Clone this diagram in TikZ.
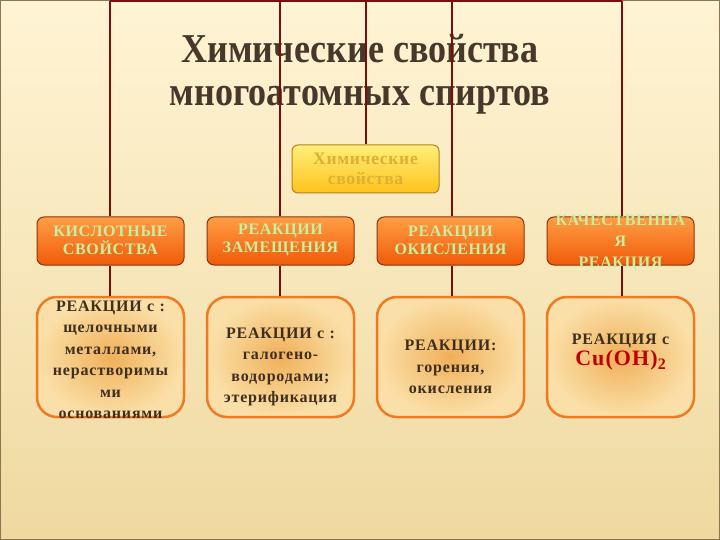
\documentclass[tikz,border=0pt]{standalone}
\usepackage{fontspec}
\setmainfont{Liberation Serif}
\newfontfamily\titlefont[FakeStretch=0.88]{Liberation Serif}
\definecolor{bgtop}{HTML}{FFF4D4}
\definecolor{bgmid}{HTML}{FAEBC0}
\definecolor{bgbot}{HTML}{EFD9A0}
\definecolor{framec}{HTML}{8C7450}
\definecolor{linec}{HTML}{7A0E0E}
\definecolor{titlec}{HTML}{46382A}
\definecolor{goldtop}{HTML}{FFEF7A}
\definecolor{goldbot}{HTML}{FFC21A}
\definecolor{goldbrd}{HTML}{B8801E}
\definecolor{goldtxt}{HTML}{DDAF32}
\definecolor{orgtop}{HTML}{FF9E45}
\definecolor{orgbot}{HTML}{F05A08}
\definecolor{orgbrd}{HTML}{8A3410}
\definecolor{grntxt}{HTML}{C4F0A0}
\definecolor{boxin}{HTML}{F0B05A}
\definecolor{boxout}{HTML}{FAE0A8}
\definecolor{boxbrd}{HTML}{F07A22}
\definecolor{txtc}{HTML}{3E2E1E}
\definecolor{cured}{HTML}{C00000}
\tikzset{
  conn/.style={draw=linec, line width=2pt},
  chembox/.style={rounded corners=6pt, draw=goldbrd, line width=1pt, top color=goldtop, bottom color=goldbot,
    minimum width=147pt, minimum height=48pt, inner sep=0pt},
  chemtext/.style={align=center, text=goldtxt, inner sep=0pt,
    font=\fontsize{17.5}{20}\selectfont\bfseries\addfontfeature{LetterSpace=4}},
  lvltwo/.style={rounded corners=7pt, draw=orgbrd, line width=1pt, top color=orgtop, bottom color=orgbot,
    minimum width=147pt, minimum height=48pt, inner sep=0pt},
  twotext/.style={align=center, text=grntxt, text width=160pt, inner sep=0pt,
    font=\fontsize{16}{18}\selectfont\bfseries\addfontfeature{LetterSpace=4}},
  lvlthree/.style={rounded corners=20pt, draw=boxbrd, line width=2.5pt, shading=radial, inner color=boxin, outer color=boxout,
    minimum width=147pt, minimum height=120pt, inner sep=0pt},
  btext/.style={align=center, text=txtc, inner sep=0pt, text width=160pt,
    font=\fontsize{16}{21.5}\selectfont\bfseries\addfontfeature{LetterSpace=5}},
}
\begin{document}
\begin{tikzpicture}[x=1pt,y=-1pt]
\useasboundingbox (0,0) rectangle (720,540);
\shade[top color=bgtop, middle color=bgmid, bottom color=bgbot] (0,0) rectangle (720,540);
\draw[framec, line width=1.2pt] (0.6,0.6) rectangle (719.4,539.4);
% title
\node[text=titlec, font=\titlefont\fontsize{41}{43}\selectfont\bfseries, align=center, inner sep=0pt] (title) at (360,74)
  {Химические свойства\\многоатомных спиртов};
% coordinates
\coordinate (t1) at (110,1);
\coordinate (t2) at (280,1);
\coordinate (tc) at (366,1);
\coordinate (t3) at (452,1);
\coordinate (t4) at (622,1);
% boxes
\node[chembox] (chem) at (365.5,169) {};
\node[chemtext] (chemt) at (365.5,169) {Химические\\свойства};
\node[lvltwo] (k1) at (110.5,241) {};
\node[lvltwo] (k2) at (280.5,241) {};
\node[lvltwo] (k3) at (450.5,241) {};
\node[lvltwo] (k4) at (620.5,241) {};
\node[twotext] (k1t) at (110.5,240) {КИСЛОТНЫЕ\\СВОЙСТВА};
\node[twotext] (k2t) at (280.5,240) {РЕАКЦИИ\\ЗАМЕЩЕНИЯ};
\node[twotext] (k3t) at (450.5,240) {РЕАКЦИИ\\ОКИСЛЕНИЯ};
\node[twotext, font=\fontsize{16}{21}\selectfont\bfseries\addfontfeature{LetterSpace=4}] (k4t) at (620.5,243) {КАЧЕСТВЕННА\\Я\\РЕАКЦИЯ};
\node[lvlthree] (r1) at (110.5,357) {};
\node[lvlthree] (r2) at (280.5,357) {};
\node[lvlthree] (r3) at (450.5,357) {};
\node[lvlthree] (r4) at (620.5,357) {};
\node[btext] (x1) at (110.5,360) {РЕАКЦИИ с :\\щелочными\\металлами,\\нерастворимы\\ми\\основаниями};
\node[btext] (x2) at (280.5,367) {РЕАКЦИИ с :\\галогено-\\водородами;\\этерификация};
\node[btext] (x3) at (450.5,367) {РЕАКЦИИ:\\горения,\\окисления};
\node[btext] (x4) at (620.5,352) {РЕАКЦИЯ с\\{\color{cured}\fontsize{22}{24}\selectfont Cu(OH)\raisebox{-4pt}{\fontsize{16}{16}\selectfont 2}}};
% connectors
\draw[conn] (t1) -- (t4);
\draw[conn] (t1) -- (t1 |- k1.north);
\draw[conn] (t2) -- (t2 |- k2.north);
\draw[conn] (t3) -- (t3 |- k3.north);
\draw[conn] (t4) -- (t4 |- k4.north);
\draw[conn] (tc) -- (tc |- chem.north);
\draw[conn] (k1.south -| t1) -- (t1 |- r1.north);
\draw[conn] (k2.south -| t2) -- (t2 |- r2.north);
\draw[conn] (k3.south -| t3) -- (t3 |- r3.north);
\draw[conn] (k4.south -| t4) -- (t4 |- r4.north);
\end{tikzpicture}
\end{document}
